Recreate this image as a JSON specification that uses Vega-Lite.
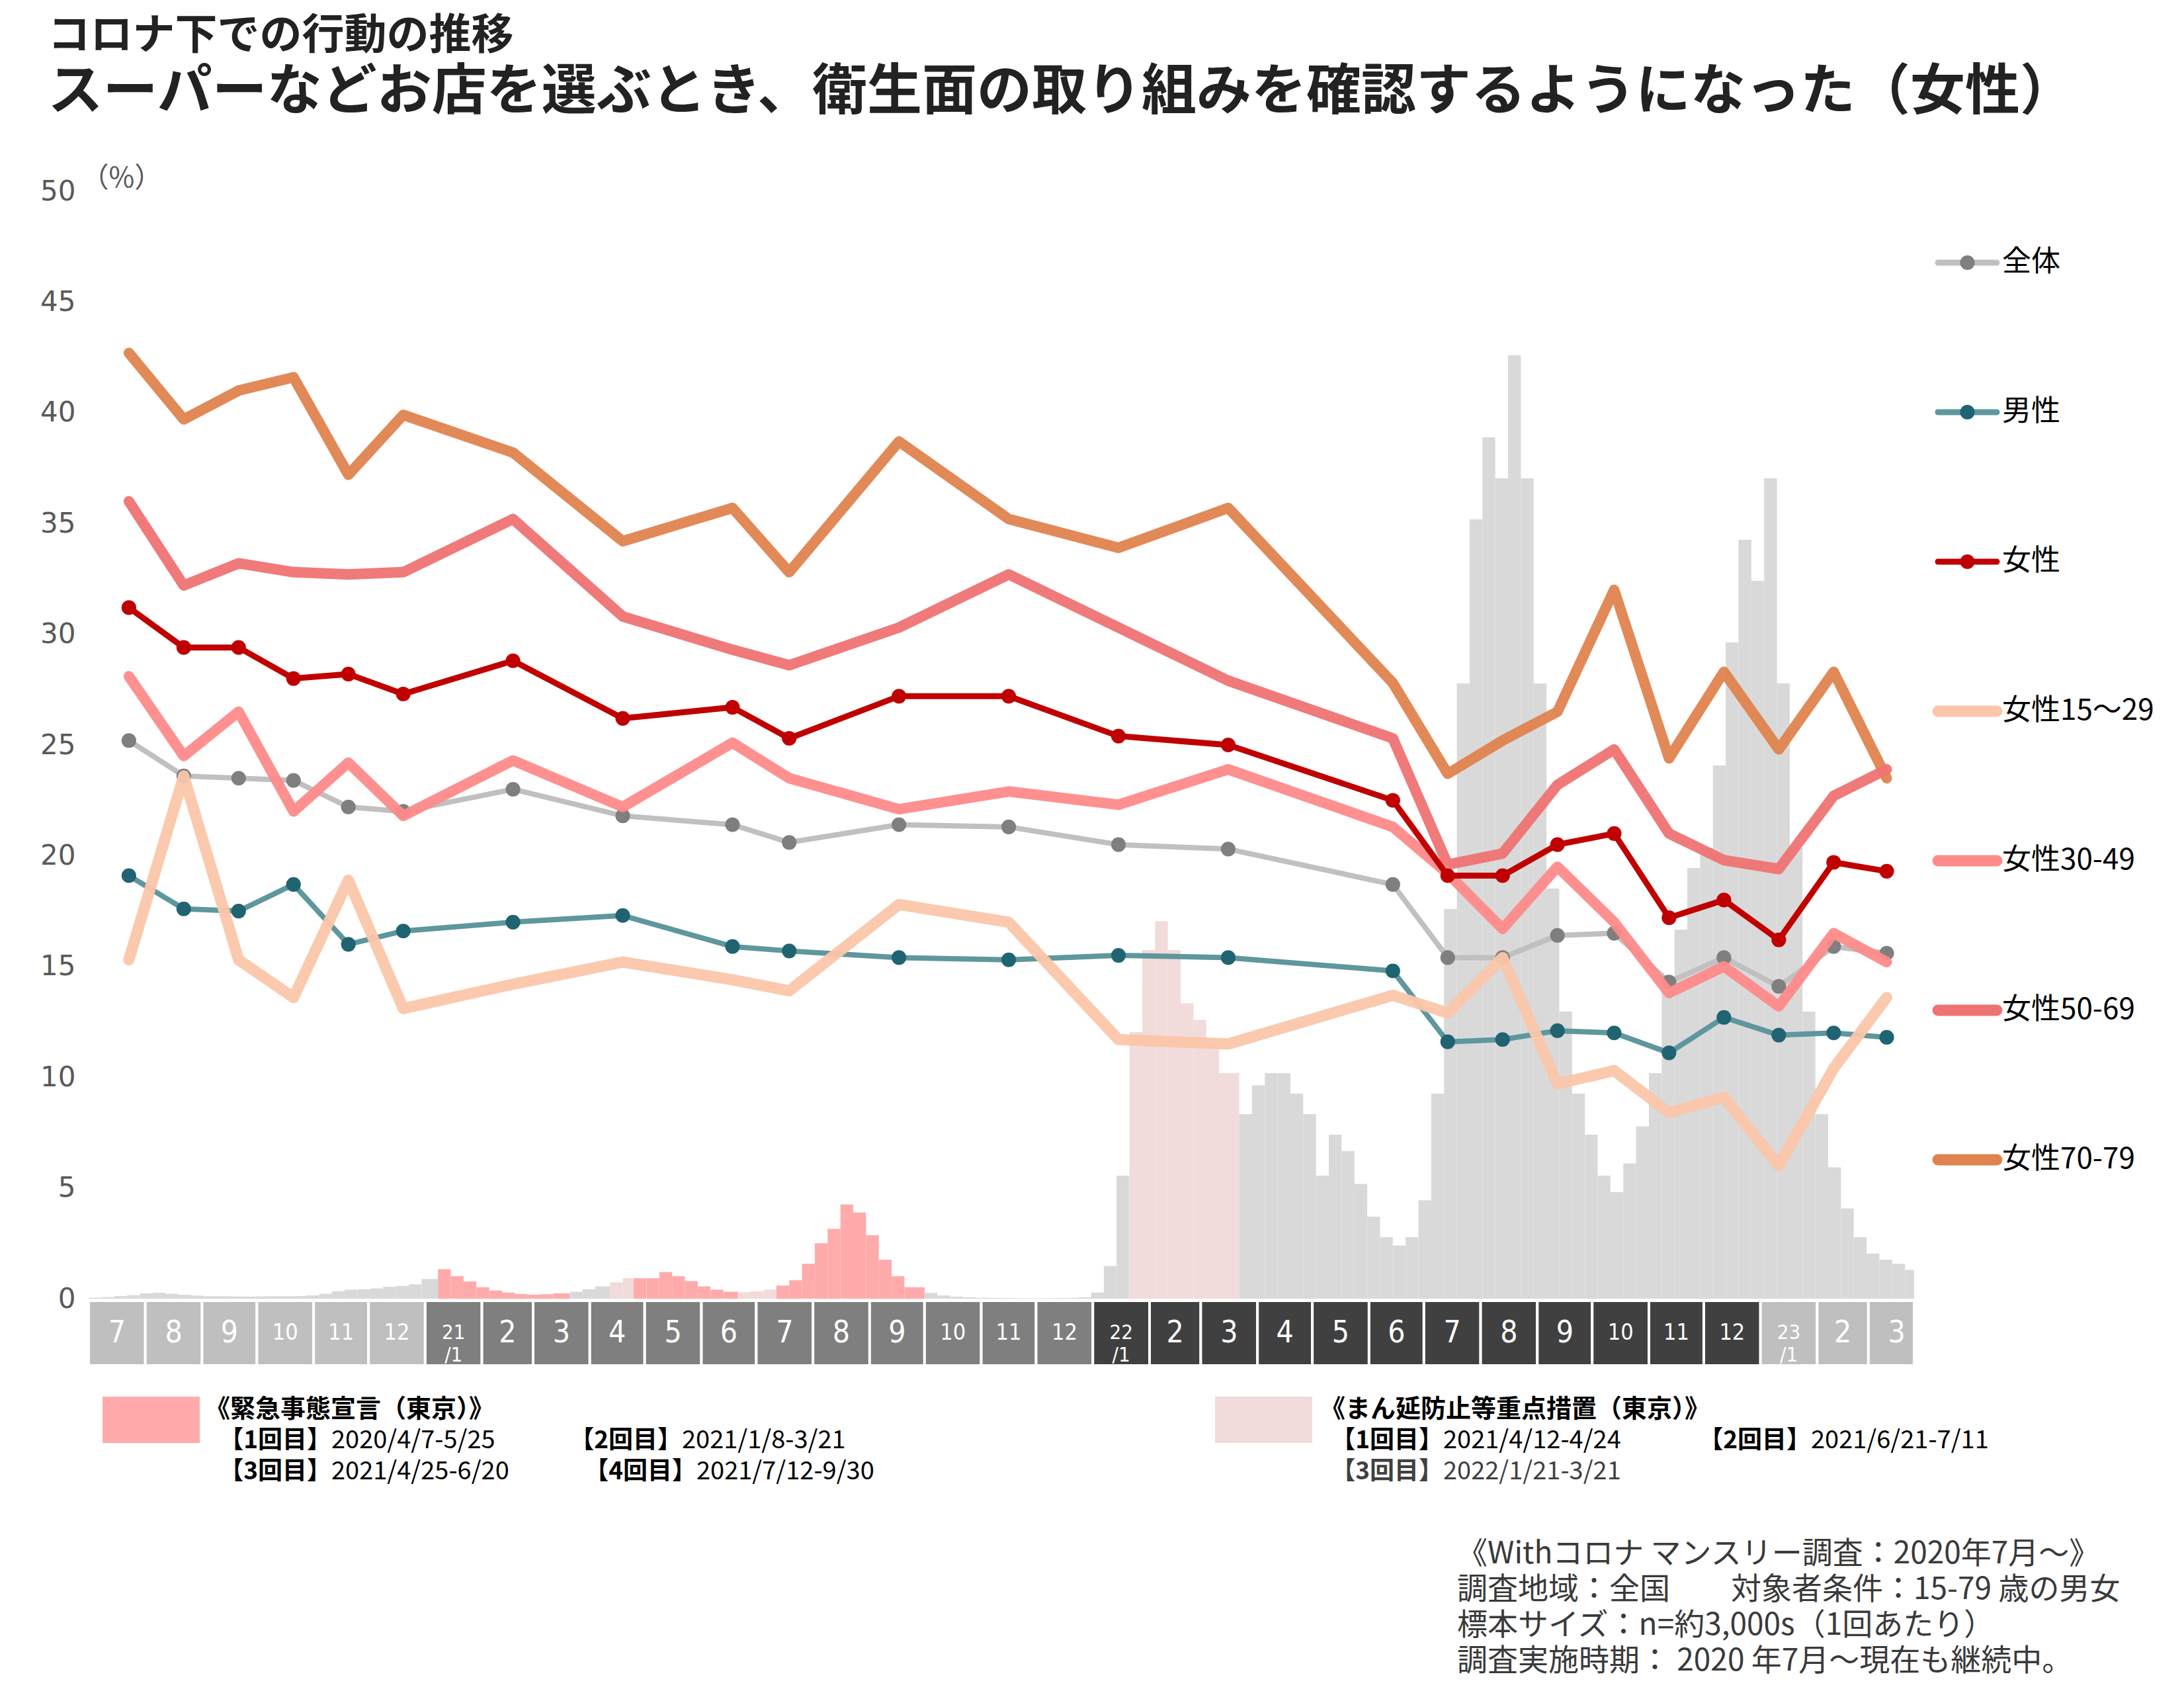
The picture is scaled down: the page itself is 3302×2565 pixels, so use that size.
{
  "$schema": "https://vega.github.io/schema/vega-lite/v6.json",
  "background": "white",
  "padding": {"left": 60, "top": 23, "right": 10, "bottom": 10},
  "bounds": "flush",
  "spacing": 3,
  "title": {
    "text": "コロナ下での行動の推移",
    "subtitle": "スーパーなどお店を選ぶとき、衛生面の取り組みを確認するようになった（女性）",
    "anchor": "start",
    "font": "Noto Sans CJK JP",
    "fontSize": 64,
    "fontWeight": "bold",
    "color": "#222222",
    "subtitleFont": "Noto Sans CJK JP",
    "subtitleFontSize": 83,
    "subtitleFontWeight": "bold",
    "subtitleColor": "#222222",
    "subtitlePadding": 12,
    "offset": 66,
    "dx": 12
  },
  "datasets": {
    "survey": [
      {"d": "2020-07-23", "全体": 25.2, "男性": 19.1, "女性": 31.2, "女性15～29": 15.3, "女性30-49": 28.1, "女性50-69": 36.0, "女性70-79": 42.7},
      {"d": "2020-08-22", "全体": 23.6, "男性": 17.6, "女性": 29.4, "女性15～29": 23.6, "女性30-49": 24.5, "女性50-69": 32.2, "女性70-79": 39.7},
      {"d": "2020-09-21", "全体": 23.5, "男性": 17.5, "女性": 29.4, "女性15～29": 15.3, "女性30-49": 26.5, "女性50-69": 33.2, "女性70-79": 41.0},
      {"d": "2020-10-21", "全体": 23.4, "男性": 18.7, "女性": 28.0, "女性15～29": 13.6, "女性30-49": 22.0, "女性50-69": 32.8, "女性70-79": 41.6},
      {"d": "2020-11-20", "全体": 22.2, "男性": 16.0, "女性": 28.2, "女性15～29": 18.9, "女性30-49": 24.2, "女性50-69": 32.7, "女性70-79": 37.2},
      {"d": "2020-12-20", "全体": 22.0, "男性": 16.6, "女性": 27.3, "女性15～29": 13.1, "女性30-49": 21.8, "女性50-69": 32.8, "女性70-79": 39.9},
      {"d": "2021-02-18", "全体": 23.0, "男性": 17.0, "女性": 28.8, "女性15～29": 14.2, "女性30-49": 24.3, "女性50-69": 35.2, "女性70-79": 38.2},
      {"d": "2021-04-19", "全体": 21.8, "男性": 17.3, "女性": 26.2, "女性15～29": 15.2, "女性30-49": 22.2, "女性50-69": 30.8, "女性70-79": 34.2},
      {"d": "2021-06-18", "全体": 21.4, "男性": 15.9, "女性": 26.7, "女性15～29": 14.4, "女性30-49": 25.1, "女性50-69": 29.3, "女性70-79": 35.7},
      {"d": "2021-07-19", "全体": 20.6, "男性": 15.7, "女性": 25.3, "女性15～29": 13.9, "女性30-49": 23.5, "女性50-69": 28.6, "女性70-79": 32.8},
      {"d": "2021-09-17", "全体": 21.4, "男性": 15.4, "女性": 27.2, "女性15～29": 17.8, "女性30-49": 22.1, "女性50-69": 30.3, "女性70-79": 38.7},
      {"d": "2021-11-16", "全体": 21.3, "男性": 15.3, "女性": 27.2, "女性15～29": 17.0, "女性30-49": 22.9, "女性50-69": 32.7, "女性70-79": 35.2},
      {"d": "2022-01-15", "全体": 20.5, "男性": 15.5, "女性": 25.4, "女性15～29": 11.7, "女性30-49": 22.3, "女性50-69": 30.3, "女性70-79": 33.9},
      {"d": "2022-03-16", "全体": 20.3, "男性": 15.4, "女性": 25.0, "女性15～29": 11.5, "女性30-49": 23.9, "女性50-69": 27.9, "女性70-79": 35.7},
      {"d": "2022-06-14", "全体": 18.7, "男性": 14.8, "女性": 22.5, "女性15～29": 13.7, "女性30-49": 21.3, "女性50-69": 25.3, "女性70-79": 27.8},
      {"d": "2022-07-14", "全体": 15.4, "男性": 11.6, "女性": 19.1, "女性15～29": 12.9, "女性30-49": 19.2, "女性50-69": 19.6, "女性70-79": 23.7},
      {"d": "2022-08-13", "全体": 15.4, "男性": 11.7, "女性": 19.1, "女性15～29": 15.4, "女性30-49": 16.7, "女性50-69": 20.1, "女性70-79": 25.2},
      {"d": "2022-09-12", "全体": 16.4, "男性": 12.1, "女性": 20.5, "女性15～29": 9.7, "女性30-49": 19.5, "女性50-69": 23.2, "女性70-79": 26.5},
      {"d": "2022-10-13", "全体": 16.5, "男性": 12.0, "女性": 21.0, "女性15～29": 10.3, "女性30-49": 17.0, "女性50-69": 24.8, "女性70-79": 32.0},
      {"d": "2022-11-12", "全体": 14.3, "男性": 11.1, "女性": 17.2, "女性15～29": 8.4, "女性30-49": 13.8, "女性50-69": 21.0, "女性70-79": 24.4},
      {"d": "2022-12-12", "全体": 15.4, "男性": 12.7, "女性": 18.0, "女性15～29": 9.1, "女性30-49": 15.0, "女性50-69": 19.8, "女性70-79": 28.3},
      {"d": "2023-01-11", "全体": 14.1, "男性": 11.9, "女性": 16.2, "女性15～29": 6.0, "女性30-49": 13.2, "女性50-69": 19.4, "女性70-79": 24.8},
      {"d": "2023-02-10", "全体": 15.9, "男性": 12.0, "女性": 19.7, "女性15～29": 10.4, "女性30-49": 16.5, "女性50-69": 22.7, "女性70-79": 28.3},
      {"d": "2023-03-11", "全体": 15.6, "男性": 11.8, "女性": 19.3, "女性15～29": 13.6, "女性30-49": 15.2, "女性50-69": 23.9, "女性70-79": 23.5}
    ],
    "series": [
      {"s": "全体"}, {"s": "男性"}, {"s": "女性"}, {"s": "女性15～29"}, {"s": "女性30-49"}, {"s": "女性50-69"}, {"s": "女性70-79"}
    ],
    "cases": [
      {"a": "2020-07-01", "b": "2020-07-08", "v": 0.25, "p": "n"},
      {"a": "2020-07-08", "b": "2020-07-15", "v": 0.4, "p": "n"},
      {"a": "2020-07-15", "b": "2020-07-22", "v": 0.65, "p": "n"},
      {"a": "2020-07-22", "b": "2020-07-29", "v": 0.85, "p": "n"},
      {"a": "2020-07-29", "b": "2020-08-05", "v": 1.3, "p": "n"},
      {"a": "2020-08-05", "b": "2020-08-12", "v": 1.45, "p": "n"},
      {"a": "2020-08-12", "b": "2020-08-19", "v": 1.2, "p": "n"},
      {"a": "2020-08-19", "b": "2020-08-26", "v": 0.95, "p": "n"},
      {"a": "2020-08-26", "b": "2020-09-02", "v": 0.75, "p": "n"},
      {"a": "2020-09-02", "b": "2020-09-09", "v": 0.6, "p": "n"},
      {"a": "2020-09-09", "b": "2020-09-16", "v": 0.6, "p": "n"},
      {"a": "2020-09-16", "b": "2020-09-23", "v": 0.55, "p": "n"},
      {"a": "2020-09-23", "b": "2020-09-30", "v": 0.5, "p": "n"},
      {"a": "2020-09-30", "b": "2020-10-07", "v": 0.55, "p": "n"},
      {"a": "2020-10-07", "b": "2020-10-14", "v": 0.6, "p": "n"},
      {"a": "2020-10-14", "b": "2020-10-21", "v": 0.6, "p": "n"},
      {"a": "2020-10-21", "b": "2020-10-28", "v": 0.65, "p": "n"},
      {"a": "2020-10-28", "b": "2020-11-04", "v": 0.8, "p": "n"},
      {"a": "2020-11-04", "b": "2020-11-11", "v": 1.2, "p": "n"},
      {"a": "2020-11-11", "b": "2020-11-18", "v": 1.8, "p": "n"},
      {"a": "2020-11-18", "b": "2020-11-25", "v": 2.2, "p": "n"},
      {"a": "2020-11-25", "b": "2020-12-02", "v": 2.3, "p": "n"},
      {"a": "2020-12-02", "b": "2020-12-09", "v": 2.5, "p": "n"},
      {"a": "2020-12-09", "b": "2020-12-16", "v": 2.9, "p": "n"},
      {"a": "2020-12-16", "b": "2020-12-23", "v": 3.1, "p": "n"},
      {"a": "2020-12-23", "b": "2020-12-30", "v": 3.5, "p": "n"},
      {"a": "2020-12-30", "b": "2021-01-08", "v": 4.8, "p": "n"},
      {"a": "2021-01-08", "b": "2021-01-15", "v": 7.2, "p": "e"},
      {"a": "2021-01-15", "b": "2021-01-22", "v": 5.5, "p": "e"},
      {"a": "2021-01-22", "b": "2021-01-29", "v": 4.2, "p": "e"},
      {"a": "2021-01-29", "b": "2021-02-05", "v": 2.8, "p": "e"},
      {"a": "2021-02-05", "b": "2021-02-12", "v": 2.0, "p": "e"},
      {"a": "2021-02-12", "b": "2021-02-19", "v": 1.5, "p": "e"},
      {"a": "2021-02-19", "b": "2021-02-26", "v": 1.15, "p": "e"},
      {"a": "2021-02-26", "b": "2021-03-05", "v": 1.0, "p": "e"},
      {"a": "2021-03-05", "b": "2021-03-12", "v": 1.1, "p": "e"},
      {"a": "2021-03-12", "b": "2021-03-21", "v": 1.3, "p": "e"},
      {"a": "2021-03-21", "b": "2021-03-28", "v": 1.7, "p": "n"},
      {"a": "2021-03-28", "b": "2021-04-04", "v": 2.3, "p": "n"},
      {"a": "2021-04-04", "b": "2021-04-12", "v": 3.0, "p": "n"},
      {"a": "2021-04-12", "b": "2021-04-19", "v": 4.0, "p": "s"},
      {"a": "2021-04-19", "b": "2021-04-25", "v": 5.0, "p": "s"},
      {"a": "2021-04-25", "b": "2021-05-02", "v": 5.0, "p": "e"},
      {"a": "2021-05-02", "b": "2021-05-09", "v": 5.0, "p": "e"},
      {"a": "2021-05-09", "b": "2021-05-16", "v": 6.5, "p": "e"},
      {"a": "2021-05-16", "b": "2021-05-23", "v": 5.5, "p": "e"},
      {"a": "2021-05-23", "b": "2021-05-30", "v": 4.3, "p": "e"},
      {"a": "2021-05-30", "b": "2021-06-06", "v": 3.0, "p": "e"},
      {"a": "2021-06-06", "b": "2021-06-13", "v": 2.2, "p": "e"},
      {"a": "2021-06-13", "b": "2021-06-21", "v": 1.7, "p": "e"},
      {"a": "2021-06-21", "b": "2021-06-28", "v": 1.6, "p": "s"},
      {"a": "2021-06-28", "b": "2021-07-05", "v": 1.8, "p": "s"},
      {"a": "2021-07-05", "b": "2021-07-12", "v": 2.2, "p": "s"},
      {"a": "2021-07-12", "b": "2021-07-19", "v": 3.2, "p": "e"},
      {"a": "2021-07-19", "b": "2021-07-26", "v": 4.5, "p": "e"},
      {"a": "2021-07-26", "b": "2021-08-02", "v": 8.5, "p": "e"},
      {"a": "2021-08-02", "b": "2021-08-09", "v": 13.5, "p": "e"},
      {"a": "2021-08-09", "b": "2021-08-16", "v": 17.0, "p": "e"},
      {"a": "2021-08-16", "b": "2021-08-23", "v": 23.0, "p": "e"},
      {"a": "2021-08-23", "b": "2021-08-30", "v": 21.0, "p": "e"},
      {"a": "2021-08-30", "b": "2021-09-06", "v": 15.5, "p": "e"},
      {"a": "2021-09-06", "b": "2021-09-13", "v": 9.5, "p": "e"},
      {"a": "2021-09-13", "b": "2021-09-20", "v": 5.5, "p": "e"},
      {"a": "2021-09-20", "b": "2021-10-01", "v": 2.8, "p": "e"},
      {"a": "2021-10-01", "b": "2021-10-08", "v": 1.4, "p": "n"},
      {"a": "2021-10-08", "b": "2021-10-15", "v": 0.8, "p": "n"},
      {"a": "2021-10-15", "b": "2021-10-22", "v": 0.5, "p": "n"},
      {"a": "2021-10-22", "b": "2021-10-29", "v": 0.35, "p": "n"},
      {"a": "2021-10-29", "b": "2021-11-05", "v": 0.25, "p": "n"},
      {"a": "2021-11-05", "b": "2021-11-12", "v": 0.2, "p": "n"},
      {"a": "2021-11-12", "b": "2021-11-19", "v": 0.15, "p": "n"},
      {"a": "2021-11-19", "b": "2021-11-26", "v": 0.12, "p": "n"},
      {"a": "2021-11-26", "b": "2021-12-03", "v": 0.12, "p": "n"},
      {"a": "2021-12-03", "b": "2021-12-10", "v": 0.12, "p": "n"},
      {"a": "2021-12-10", "b": "2021-12-17", "v": 0.15, "p": "n"},
      {"a": "2021-12-17", "b": "2021-12-24", "v": 0.2, "p": "n"},
      {"a": "2021-12-24", "b": "2021-12-31", "v": 0.35, "p": "n"},
      {"a": "2021-12-31", "b": "2022-01-07", "v": 1.5, "p": "n"},
      {"a": "2022-01-07", "b": "2022-01-14", "v": 8.0, "p": "n"},
      {"a": "2022-01-14", "b": "2022-01-21", "v": 30, "p": "n"},
      {"a": "2022-01-21", "b": "2022-01-28", "v": 65, "p": "s"},
      {"a": "2022-01-28", "b": "2022-02-04", "v": 85, "p": "s"},
      {"a": "2022-02-04", "b": "2022-02-11", "v": 92, "p": "s"},
      {"a": "2022-02-11", "b": "2022-02-18", "v": 85, "p": "s"},
      {"a": "2022-02-18", "b": "2022-02-25", "v": 72, "p": "s"},
      {"a": "2022-02-25", "b": "2022-03-04", "v": 68, "p": "s"},
      {"a": "2022-03-04", "b": "2022-03-11", "v": 62, "p": "s"},
      {"a": "2022-03-11", "b": "2022-03-22", "v": 55, "p": "s"},
      {"a": "2022-03-22", "b": "2022-03-29", "v": 45, "p": "n"},
      {"a": "2022-03-29", "b": "2022-04-05", "v": 52, "p": "n"},
      {"a": "2022-04-05", "b": "2022-04-12", "v": 55, "p": "n"},
      {"a": "2022-04-12", "b": "2022-04-19", "v": 55, "p": "n"},
      {"a": "2022-04-19", "b": "2022-04-26", "v": 50, "p": "n"},
      {"a": "2022-04-26", "b": "2022-05-03", "v": 45, "p": "n"},
      {"a": "2022-05-03", "b": "2022-05-10", "v": 30, "p": "n"},
      {"a": "2022-05-10", "b": "2022-05-17", "v": 40, "p": "n"},
      {"a": "2022-05-17", "b": "2022-05-24", "v": 36, "p": "n"},
      {"a": "2022-05-24", "b": "2022-05-31", "v": 28, "p": "n"},
      {"a": "2022-05-31", "b": "2022-06-07", "v": 20, "p": "n"},
      {"a": "2022-06-07", "b": "2022-06-14", "v": 15, "p": "n"},
      {"a": "2022-06-14", "b": "2022-06-21", "v": 13, "p": "n"},
      {"a": "2022-06-21", "b": "2022-06-28", "v": 15, "p": "n"},
      {"a": "2022-06-28", "b": "2022-07-05", "v": 24, "p": "n"},
      {"a": "2022-07-05", "b": "2022-07-12", "v": 50, "p": "n"},
      {"a": "2022-07-12", "b": "2022-07-19", "v": 95, "p": "n"},
      {"a": "2022-07-19", "b": "2022-07-26", "v": 150, "p": "n"},
      {"a": "2022-07-26", "b": "2022-08-02", "v": 190, "p": "n"},
      {"a": "2022-08-02", "b": "2022-08-09", "v": 210, "p": "n"},
      {"a": "2022-08-09", "b": "2022-08-16", "v": 200, "p": "n"},
      {"a": "2022-08-16", "b": "2022-08-23", "v": 230, "p": "n"},
      {"a": "2022-08-23", "b": "2022-08-30", "v": 200, "p": "n"},
      {"a": "2022-08-30", "b": "2022-09-06", "v": 150, "p": "n"},
      {"a": "2022-09-06", "b": "2022-09-13", "v": 100, "p": "n"},
      {"a": "2022-09-13", "b": "2022-09-20", "v": 70, "p": "n"},
      {"a": "2022-09-20", "b": "2022-09-27", "v": 50, "p": "n"},
      {"a": "2022-09-27", "b": "2022-10-04", "v": 40, "p": "n"},
      {"a": "2022-10-04", "b": "2022-10-11", "v": 30, "p": "n"},
      {"a": "2022-10-11", "b": "2022-10-18", "v": 26, "p": "n"},
      {"a": "2022-10-18", "b": "2022-10-25", "v": 33, "p": "n"},
      {"a": "2022-10-25", "b": "2022-11-01", "v": 42, "p": "n"},
      {"a": "2022-11-01", "b": "2022-11-08", "v": 55, "p": "n"},
      {"a": "2022-11-08", "b": "2022-11-15", "v": 75, "p": "n"},
      {"a": "2022-11-15", "b": "2022-11-22", "v": 90, "p": "n"},
      {"a": "2022-11-22", "b": "2022-11-29", "v": 105, "p": "n"},
      {"a": "2022-11-29", "b": "2022-12-06", "v": 110, "p": "n"},
      {"a": "2022-12-06", "b": "2022-12-13", "v": 130, "p": "n"},
      {"a": "2022-12-13", "b": "2022-12-20", "v": 160, "p": "n"},
      {"a": "2022-12-20", "b": "2022-12-27", "v": 185, "p": "n"},
      {"a": "2022-12-27", "b": "2023-01-03", "v": 175, "p": "n"},
      {"a": "2023-01-03", "b": "2023-01-10", "v": 200, "p": "n"},
      {"a": "2023-01-10", "b": "2023-01-17", "v": 150, "p": "n"},
      {"a": "2023-01-17", "b": "2023-01-24", "v": 110, "p": "n"},
      {"a": "2023-01-24", "b": "2023-01-31", "v": 70, "p": "n"},
      {"a": "2023-01-31", "b": "2023-02-07", "v": 45, "p": "n"},
      {"a": "2023-02-07", "b": "2023-02-14", "v": 32, "p": "n"},
      {"a": "2023-02-14", "b": "2023-02-21", "v": 22, "p": "n"},
      {"a": "2023-02-21", "b": "2023-02-28", "v": 15, "p": "n"},
      {"a": "2023-02-28", "b": "2023-03-07", "v": 11, "p": "n"},
      {"a": "2023-03-07", "b": "2023-03-14", "v": 9.5, "p": "n"},
      {"a": "2023-03-14", "b": "2023-03-21", "v": 8.5, "p": "n"},
      {"a": "2023-03-21", "b": "2023-03-26", "v": 7, "p": "n"}
    ],
    "months": [
      {"a": "2020-07-01", "b": "2020-08-01", "y": "2020", "l": "7"},
      {"a": "2020-08-01", "b": "2020-09-01", "y": "2020", "l": "8"},
      {"a": "2020-09-01", "b": "2020-10-01", "y": "2020", "l": "9"},
      {"a": "2020-10-01", "b": "2020-11-01", "y": "2020", "l": "10"},
      {"a": "2020-11-01", "b": "2020-12-01", "y": "2020", "l": "11"},
      {"a": "2020-12-01", "b": "2021-01-01", "y": "2020", "l": "12"},
      {"a": "2021-01-01", "b": "2021-02-01", "y": "2021", "l": "21\n/1"},
      {"a": "2021-02-01", "b": "2021-03-01", "y": "2021", "l": "2"},
      {"a": "2021-03-01", "b": "2021-04-01", "y": "2021", "l": "3"},
      {"a": "2021-04-01", "b": "2021-05-01", "y": "2021", "l": "4"},
      {"a": "2021-05-01", "b": "2021-06-01", "y": "2021", "l": "5"},
      {"a": "2021-06-01", "b": "2021-07-01", "y": "2021", "l": "6"},
      {"a": "2021-07-01", "b": "2021-08-01", "y": "2021", "l": "7"},
      {"a": "2021-08-01", "b": "2021-09-01", "y": "2021", "l": "8"},
      {"a": "2021-09-01", "b": "2021-10-01", "y": "2021", "l": "9"},
      {"a": "2021-10-01", "b": "2021-11-01", "y": "2021", "l": "10"},
      {"a": "2021-11-01", "b": "2021-12-01", "y": "2021", "l": "11"},
      {"a": "2021-12-01", "b": "2022-01-01", "y": "2021", "l": "12"},
      {"a": "2022-01-01", "b": "2022-02-01", "y": "2022", "l": "22\n/1"},
      {"a": "2022-02-01", "b": "2022-03-01", "y": "2022", "l": "2"},
      {"a": "2022-03-01", "b": "2022-04-01", "y": "2022", "l": "3"},
      {"a": "2022-04-01", "b": "2022-05-01", "y": "2022", "l": "4"},
      {"a": "2022-05-01", "b": "2022-06-01", "y": "2022", "l": "5"},
      {"a": "2022-06-01", "b": "2022-07-01", "y": "2022", "l": "6"},
      {"a": "2022-07-01", "b": "2022-08-01", "y": "2022", "l": "7"},
      {"a": "2022-08-01", "b": "2022-09-01", "y": "2022", "l": "8"},
      {"a": "2022-09-01", "b": "2022-10-01", "y": "2022", "l": "9"},
      {"a": "2022-10-01", "b": "2022-11-01", "y": "2022", "l": "10"},
      {"a": "2022-11-01", "b": "2022-12-01", "y": "2022", "l": "11"},
      {"a": "2022-12-01", "b": "2023-01-01", "y": "2022", "l": "12"},
      {"a": "2023-01-01", "b": "2023-02-01", "y": "2023", "l": "23\n/1"},
      {"a": "2023-02-01", "b": "2023-03-01", "y": "2023", "l": "2"},
      {"a": "2023-03-01", "b": "2023-03-26", "y": "2023", "l": "3"}
    ]
  },
  "vconcat": [
    {
      "width": 2760,
      "height": 1674,
      "layer": [
        {
          "data": {"name": "cases"},
          "mark": {"type": "rect"},
          "encoding": {
            "x": {"field": "a", "type": "temporal", "scale": {"domain": ["2020-07-01", "2023-03-26"]}, "axis": null},
            "x2": {"field": "b"},
            "y": {"field": "v", "type": "quantitative", "scale": {"domain": [0, 270], "nice": false}, "axis": null},
            "y2": {"datum": 0},
            "fill": {"field": "p", "type": "nominal", "scale": {"domain": ["n", "e", "s"], "range": ["#d9d9d9", "#ffabab", "#f1dbdb"]}, "legend": null}
          }
        },
        {
          "data": {"name": "survey"},
          "transform": [
            {"fold": ["全体", "男性", "女性", "女性15～29", "女性30-49", "女性50-69", "女性70-79"], "as": ["s", "v"]}
          ],
          "encoding": {
            "x": {"field": "d", "type": "temporal", "scale": {"domain": ["2020-07-01", "2023-03-26"]}, "axis": null},
            "y": {
              "field": "v",
              "type": "quantitative",
              "scale": {"domain": [0, 50], "nice": false},
              "axis": {
                "values": [0, 5, 10, 15, 20, 25, 30, 35, 40, 45, 50],
                "title": "（%）",
                "titleAngle": 0,
                "titleAlign": "left",
                "titleBaseline": "bottom",
                "titleX": -12,
                "titleY": 2,
                "titleFont": "Noto Sans CJK JP",
                "titleFontSize": 42,
                "titleFontWeight": "normal",
                "titleColor": "#595959",
                "labelFont": "DejaVu Sans",
                "labelFontSize": 42,
                "labelColor": "#595959",
                "labelPadding": 20,
                "ticks": false,
                "domain": false,
                "gridColor": "#d9d9d9",
                "gridWidth": 2.5
              }
            },
            "stroke": {
              "field": "s", "type": "nominal",
              "scale": {"domain": ["全体", "男性", "女性", "女性15～29", "女性30-49", "女性50-69", "女性70-79"], "range": ["#c0c0c0", "#5e979d", "#c00000", "#fbc6a9", "#ff8a8a", "#ef7373", "#e0834f"]},
              "legend": null
            }
          },
          "layer": [
            {
              "transform": [{"filter": {"field": "s", "oneOf": ["全体", "男性"]}}],
              "mark": {"type": "line", "strokeWidth": 8, "strokeCap": "round", "strokeJoin": "round"}
            },
            {
              "transform": [{"filter": {"field": "s", "oneOf": ["全体", "男性"]}}],
              "mark": {"type": "circle", "size": 490, "opacity": 1, "strokeWidth": 0},
              "encoding": {
                "color": {"field": "s", "type": "nominal", "scale": {"domain": ["全体", "男性", "女性"], "range": ["#7f7f7f", "#1f6470", "#c00000"]}, "legend": null}
              }
            },
            {
              "transform": [{"filter": {"field": "s", "equal": "女性70-79"}}],
              "mark": {"type": "line", "strokeWidth": 16, "strokeCap": "round", "strokeJoin": "round", "strokeOpacity": 0.95}
            },
            {
              "transform": [{"filter": {"field": "s", "equal": "女性50-69"}}],
              "mark": {"type": "line", "strokeWidth": 16, "strokeCap": "round", "strokeJoin": "round", "strokeOpacity": 0.95}
            },
            {
              "transform": [{"filter": {"field": "s", "equal": "女性30-49"}}],
              "mark": {"type": "line", "strokeWidth": 16, "strokeCap": "round", "strokeJoin": "round", "strokeOpacity": 0.95}
            },
            {
              "transform": [{"filter": {"field": "s", "equal": "女性15～29"}}],
              "mark": {"type": "line", "strokeWidth": 17, "strokeCap": "round", "strokeJoin": "round", "strokeOpacity": 0.95}
            },
            {
              "transform": [{"filter": {"field": "s", "equal": "女性"}}],
              "mark": {"type": "line", "strokeWidth": 9, "strokeCap": "round", "strokeJoin": "round"}
            },
            {
              "transform": [{"filter": {"field": "s", "equal": "女性"}}],
              "mark": {"type": "circle", "size": 490, "opacity": 1, "strokeWidth": 0},
              "encoding": {"color": {"field": "s", "type": "nominal", "scale": {"domain": ["全体", "男性", "女性"], "range": ["#7f7f7f", "#1f6470", "#c00000"]}, "legend": null}}
            }
          ]
        },
        {
          "data": {"name": "series"},
          "encoding": {
            "y": {"field": "s", "type": "nominal", "scale": {"type": "point", "padding": 0, "domain": ["全体", "男性", "女性", "女性15～29", "女性30-49", "女性50-69", "女性70-79"], "range": [108, 1464]}, "axis": null},
            "stroke": {
              "field": "s", "type": "nominal",
              "scale": {"domain": ["全体", "男性", "女性", "女性15～29", "女性30-49", "女性50-69", "女性70-79"], "range": ["#c0c0c0", "#5e979d", "#c00000", "#fbc6a9", "#ff8a8a", "#ef7373", "#e0834f"]},
              "legend": null
            }
          },
          "layer": [
            {
              "transform": [{"filter": {"field": "s", "oneOf": ["全体", "男性", "女性"]}}],
              "mark": {"type": "rule", "strokeWidth": 9, "strokeCap": "round"},
              "encoding": {
                "x": {"datum": 0, "type": "quantitative", "scale": {"domain": [0, 1], "range": [2796, 2885]}, "axis": null},
                "x2": {"datum": 1}
              }
            },
            {
              "transform": [{"filter": {"field": "s", "oneOf": ["女性15～29", "女性30-49", "女性50-69", "女性70-79"]}}],
              "mark": {"type": "rule", "strokeWidth": 17, "strokeCap": "round"},
              "encoding": {
                "x": {"datum": 0, "type": "quantitative", "scale": {"domain": [0, 1], "range": [2796, 2885]}, "axis": null},
                "x2": {"datum": 1}
              }
            },
            {
              "transform": [{"filter": {"field": "s", "oneOf": ["全体", "男性", "女性"]}}],
              "mark": {"type": "circle", "size": 490, "opacity": 1, "strokeWidth": 0},
              "encoding": {
                "x": {"datum": 0.5, "type": "quantitative", "scale": {"domain": [0, 1], "range": [2796, 2885]}, "axis": null},
                "color": {"field": "s", "type": "nominal", "scale": {"domain": ["全体", "男性", "女性"], "range": ["#7f7f7f", "#1f6470", "#c00000"]}, "legend": null}
              }
            },
            {
              "mark": {"type": "text", "align": "left", "baseline": "middle", "dx": 8, "fontSize": 44, "font": "Noto Sans CJK JP", "color": "#000000", "strokeWidth": 0},
              "encoding": {
                "x": {"datum": 1, "type": "quantitative", "scale": {"domain": [0, 1], "range": [2796, 2885]}, "axis": null},
                "text": {"field": "s"}
              }
            }
          ]
        }
      ],
      "resolve": {"scale": {"x": "independent", "y": "independent"}}
    },
    {
      "width": 2760,
      "height": 98,
      "data": {"name": "months"},
      "encoding": {
        "x": {"field": "a", "type": "temporal", "scale": {"domain": ["2020-07-01", "2023-03-26"]}, "axis": null}
      },
      "layer": [
        {
          "mark": {"type": "rect", "stroke": "white", "strokeWidth": 4},
          "encoding": {
            "x2": {"field": "b"},
            "fill": {"field": "y", "type": "nominal", "scale": {"domain": ["2020", "2021", "2022", "2023"], "range": ["#bfbfbf", "#7f7f7f", "#404040", "#bfbfbf"]}, "legend": null}
          }
        },
        {
          "mark": {"type": "text", "color": "white", "font": "Liberation Sans Narrow, DejaVu Sans Condensed, Liberation Sans, sans-serif", "lineBreak": "\n", "lineHeight": 34, "baseline": "middle", "align": "center"},
          "encoding": {
            "x": {"field": "a", "type": "temporal", "timeUnit": "yearmonth", "bandPosition": 0.5},
            "text": {"field": "l"},
            "size": {"condition": [{"test": "indexof(datum.l, '/') >= 0", "value": 31}, {"test": "length(datum.l) == 2", "value": 34}], "value": 46}
          }
        }
      ]
    },
    {
      "width": 2760,
      "height": 470,
      "data": {"values": [{}]},
      "layer": [
        {"mark": {"type": "rect", "x": 21, "x2": 168, "y": 44, "y2": 114, "fill": "#ffabab"}},
        {"mark": {"type": "rect", "x": 1703, "x2": 1850, "y": 44, "y2": 114, "fill": "#f1dbdb"}},
        {"mark": {"type": "text", "text": "《緊急事態宣言（東京）》", "x": 176, "y": 64, "align": "left", "baseline": "middle", "fontSize": 38, "fontWeight": "bold", "color": "#000000"}},
        {"mark": {"type": "text", "text": "【1回目】", "x": 367, "y": 111, "align": "right", "baseline": "middle", "fontSize": 37, "fontWeight": "bold", "color": "#000000"}},
        {"mark": {"type": "text", "text": "2020/4/7-5/25", "x": 367, "y": 111, "align": "left", "baseline": "middle", "fontSize": 38, "color": "#000000"}},
        {"mark": {"type": "text", "text": "【2回目】", "x": 897, "y": 111, "align": "right", "baseline": "middle", "fontSize": 37, "fontWeight": "bold", "color": "#000000"}},
        {"mark": {"type": "text", "text": "2021/1/8-3/21", "x": 897, "y": 111, "align": "left", "baseline": "middle", "fontSize": 38, "color": "#000000"}},
        {"mark": {"type": "text", "text": "【3回目】", "x": 367, "y": 158, "align": "right", "baseline": "middle", "fontSize": 37, "fontWeight": "bold", "color": "#000000"}},
        {"mark": {"type": "text", "text": "2021/4/25-6/20", "x": 367, "y": 158, "align": "left", "baseline": "middle", "fontSize": 38, "color": "#000000"}},
        {"mark": {"type": "text", "text": "【4回目】", "x": 919, "y": 158, "align": "right", "baseline": "middle", "fontSize": 37, "fontWeight": "bold", "color": "#000000"}},
        {"mark": {"type": "text", "text": "2021/7/12-9/30", "x": 919, "y": 158, "align": "left", "baseline": "middle", "fontSize": 38, "color": "#000000"}},
        {"mark": {"type": "text", "text": "《まん延防止等重点措置（東京）》", "x": 1862, "y": 64, "align": "left", "baseline": "middle", "fontSize": 38, "fontWeight": "bold", "color": "#000000"}},
        {"mark": {"type": "text", "text": "【1回目】", "x": 2048, "y": 111, "align": "right", "baseline": "middle", "fontSize": 37, "fontWeight": "bold", "color": "#000000"}},
        {"mark": {"type": "text", "text": "2021/4/12-4/24", "x": 2048, "y": 111, "align": "left", "baseline": "middle", "fontSize": 38, "color": "#000000"}},
        {"mark": {"type": "text", "text": "【2回目】", "x": 2604, "y": 111, "align": "right", "baseline": "middle", "fontSize": 37, "fontWeight": "bold", "color": "#000000"}},
        {"mark": {"type": "text", "text": "2021/6/21-7/11", "x": 2604, "y": 111, "align": "left", "baseline": "middle", "fontSize": 38, "color": "#000000"}},
        {"mark": {"type": "text", "text": "【3回目】", "x": 2048, "y": 158, "align": "right", "baseline": "middle", "fontSize": 37, "fontWeight": "bold", "color": "#404040"}},
        {"mark": {"type": "text", "text": "2022/1/21-3/21", "x": 2048, "y": 158, "align": "left", "baseline": "middle", "fontSize": 38, "color": "#404040"}},
        {"mark": {"type": "text", "text": ["《Withコロナ マンスリー調査：2020年7月～》", "調査地域：全国　　対象者条件：15-79 歳の男女", "標本サイズ：n=約3,000s（1回あたり）", "調査実施時期： 2020 年7月～現在も継続中。"], "x": 2069, "y": 260, "align": "left", "baseline": "top", "fontSize": 46, "lineHeight": 54, "color": "#3a3a3a"}}
      ]
    }
  ],
  "resolve": {"scale": {"fill": "independent", "color": "independent", "stroke": "independent", "x": "independent"}},
  "config": {
    "font": "Noto Sans CJK JP",
    "view": {"stroke": null}
  }
}
